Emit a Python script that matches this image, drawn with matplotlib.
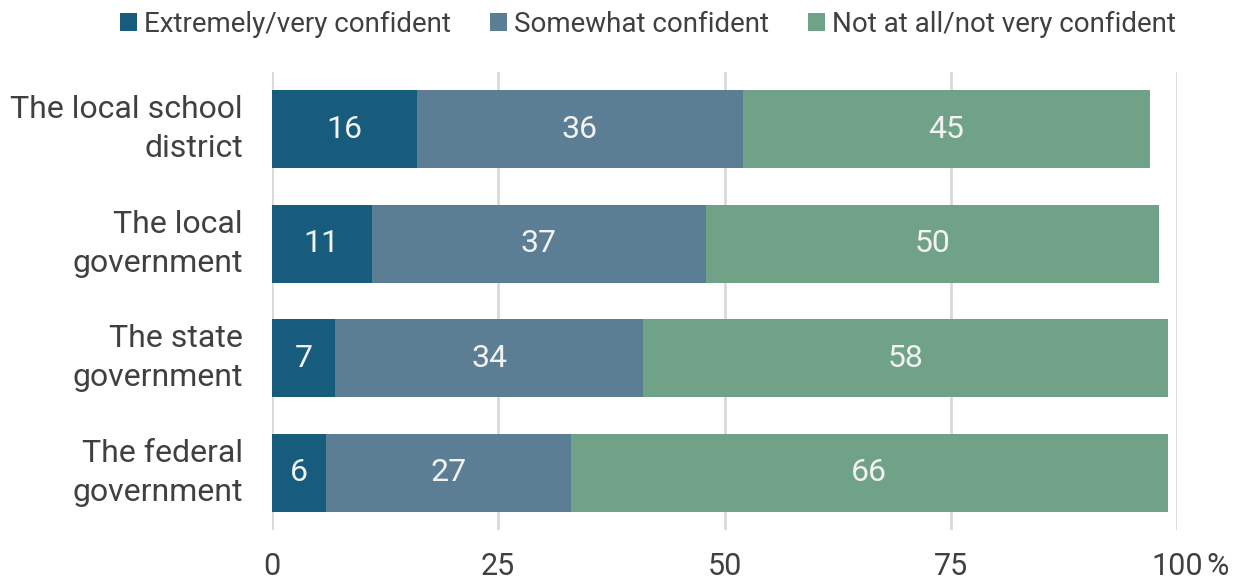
import matplotlib
matplotlib.use("Agg")
import matplotlib.pyplot as plt
from matplotlib.patches import Patch
import numpy as np

plt.rcParams['font.family'] = ['Roboto', 'DejaVu Sans']

categories = ["The local school\ndistrict", "The local\ngovernment",
              "The state\ngovernment", "The federal\ngovernment"]
series_names = ["Extremely/very confident", "Somewhat confident",
                "Not at all/not very confident"]
extremely = [16, 11, 7, 6]
somewhat = [36, 37, 34, 27]
not_at_all = [45, 50, 58, 66]
tick_values = [0, 25, 50, 75, 100]
tick_labels = ["0", "25", "50", "75", "100"]

colors = ["#175c7c", "#5b7e94", "#6fa287"]
text_color = "#404040"

fig = plt.figure(figsize=(12.37, 5.8), dpi=100)
ax = fig.add_axes([272 / 1237, 1 - 530 / 580, 905 / 1237, 458 / 580])

y = np.arange(len(categories))
left = np.zeros(len(categories))
for vals, col in zip([extremely, somewhat, not_at_all], colors):
    vals = np.array(vals, dtype=float)
    ax.barh(y, vals, left=left, height=0.68, color=col, zorder=3)
    for yi, l, v in zip(y, left, vals):
        ax.text(l + v / 2, yi, f"{int(v)}", ha="center", va="center",
                color="#f2f2f2", fontsize=23, zorder=4)
    left += vals

ax.set_xlim(0, 100)
ax.set_ylim(3.5, -0.5)
ax.set_yticks(y)
ax.set_yticklabels(categories, fontsize=23, color=text_color,
                   linespacing=1.42, va="center")
ax.set_xticks(tick_values)
ax.set_xticklabels(tick_labels, fontsize=22, color=text_color)
ax.tick_params(axis="y", length=0, pad=21)
ax.tick_params(axis="x", length=0, pad=16)
ax.grid(axis="x", color="#d9d9d9", linewidth=2, zorder=0)
for s in ax.spines.values():
    s.set_visible(False)

ax.annotate("%", xy=(100, 0), xycoords=("data", "axes fraction"),
            xytext=(21, -16), textcoords="offset points",
            ha="left", va="top", fontsize=22, color=text_color)

handles = [Patch(facecolor=c, edgecolor="none") for c in colors]
leg = fig.legend(handles, series_names, loc="upper center",
                 bbox_to_anchor=(0.524, 1.025), ncol=3, frameon=False,
                 fontsize=20, handlelength=0.62, handleheight=0.62,
                 handletextpad=0.25, columnspacing=1.4,
                 labelcolor=text_color)

fig.savefig("out.png", dpi=100)
